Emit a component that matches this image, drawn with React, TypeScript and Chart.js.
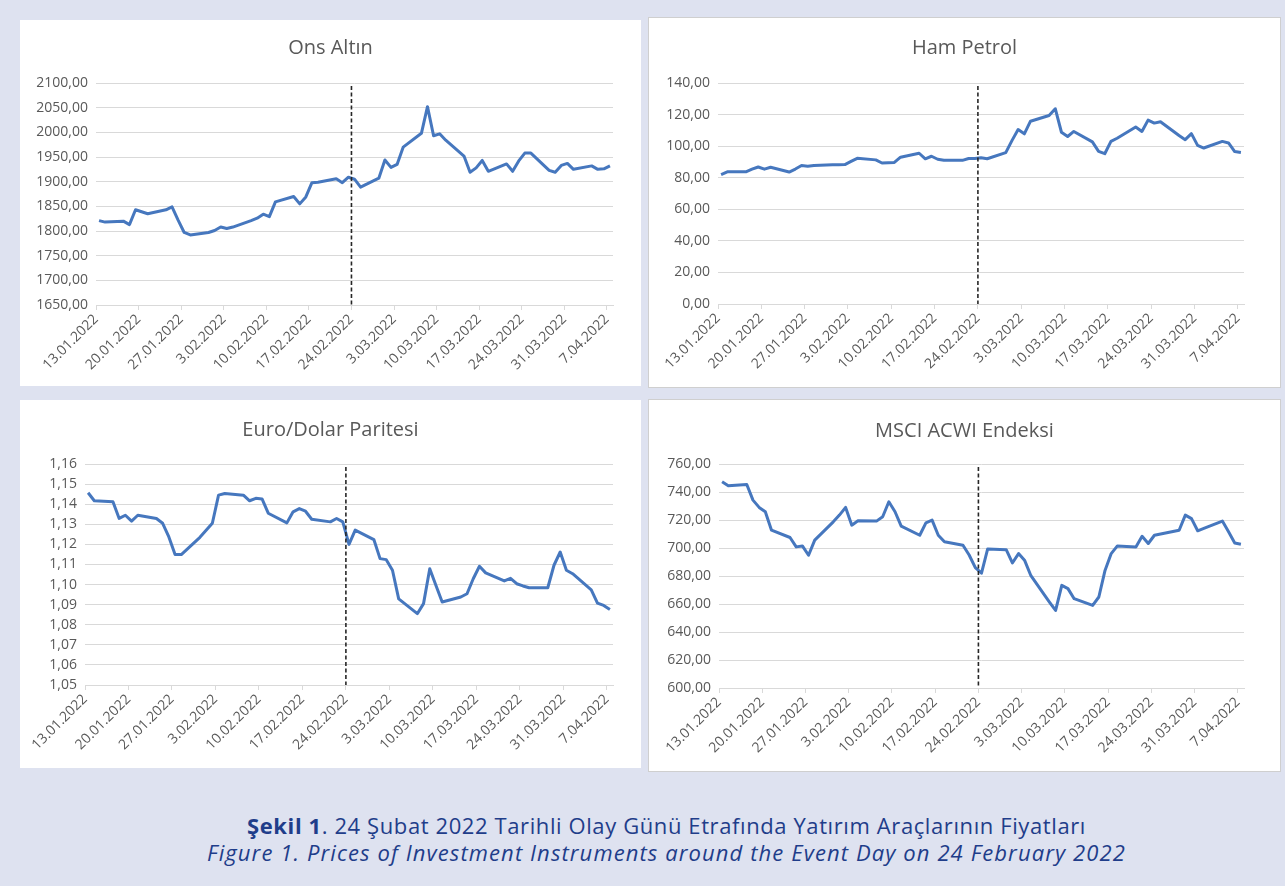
import React, { useEffect, useRef } from "react";
import { Chart, registerables } from "chart.js";

Chart.register(...registerables);

// ---------- DATA ----------
const startDate = "2022-01-13";
const eventDate = "2022-02-24";

const tradingDates = [
  "2022-01-13", "2022-01-14", "2022-01-17", "2022-01-18", "2022-01-19", "2022-01-20", "2022-01-21",
  "2022-01-24", "2022-01-25", "2022-01-26", "2022-01-27", "2022-01-28",
  "2022-01-31", "2022-02-01", "2022-02-02", "2022-02-03", "2022-02-04",
  "2022-02-07", "2022-02-08", "2022-02-09", "2022-02-10", "2022-02-11",
  "2022-02-14", "2022-02-15", "2022-02-16", "2022-02-17", "2022-02-18",
  "2022-02-21", "2022-02-22", "2022-02-23", "2022-02-24", "2022-02-25",
  "2022-02-28", "2022-03-01", "2022-03-02", "2022-03-03", "2022-03-04",
  "2022-03-07", "2022-03-08", "2022-03-09", "2022-03-10", "2022-03-11",
  "2022-03-14", "2022-03-15", "2022-03-16", "2022-03-17", "2022-03-18",
  "2022-03-21", "2022-03-22", "2022-03-23", "2022-03-24", "2022-03-25",
  "2022-03-28", "2022-03-29", "2022-03-30", "2022-03-31", "2022-04-01",
  "2022-04-04", "2022-04-05", "2022-04-06", "2022-04-07",
];

const tickLabels = [
  "13.01.2022", "20.01.2022", "27.01.2022", "3.02.2022", "10.02.2022", "17.02.2022",
  "24.02.2022", "3.03.2022", "10.03.2022", "17.03.2022", "24.03.2022", "31.03.2022", "7.04.2022",
];

const goldValues = [
  1821, 1818, 1820, 1813, 1843, 1839, 1835,
  1843, 1849, 1822, 1797, 1792,
  1797, 1801, 1808, 1805, 1808,
  1821, 1826, 1834, 1829, 1859,
  1870, 1855, 1869, 1898, 1899,
  1906, 1898, 1909, 1905, 1889,
  1907, 1944, 1929, 1935, 1970,
  1998, 2052, 1993, 1997, 1984,
  1952, 1919, 1928, 1943, 1921,
  1936, 1921, 1942, 1958, 1958,
  1923, 1919, 1933, 1937, 1925,
  1932, 1925, 1926, 1932,
];

const oilValues = [
  82.0, 83.7, 83.7, 85.4, 86.8, 85.4, 86.6,
  83.6, 85.5, 87.7, 87.3, 87.8,
  88.2, 88.2, 88.3, 90.3, 92.3,
  91.3, 89.3, 89.5, 89.7, 93.0,
  95.5, 92.0, 93.6, 91.7, 91.0,
  91.0, 92.2, 92.2, 92.7, 92.0,
  95.9, 103.5, 110.5, 107.8, 115.8,
  119.4, 123.7, 108.8, 106.1, 109.3,
  102.7, 96.7, 95.2, 103.0, 105.0,
  112.1, 109.3, 116.5, 114.6, 115.5,
  106.7, 104.1, 107.9, 100.5, 98.8,
  103.0, 102.0, 96.6, 96.0,
];

const eurUsdValues = [
  1.1457, 1.1417, 1.1412, 1.1329, 1.1345, 1.1316, 1.1345,
  1.1329, 1.1305, 1.1237, 1.1149, 1.1149,
  1.1235, 1.1270, 1.1305, 1.1445, 1.1453,
  1.1445, 1.1417, 1.1429, 1.1426, 1.1355,
  1.1307, 1.1362, 1.1378, 1.1365, 1.1325,
  1.1312, 1.1329, 1.1312, 1.1200, 1.1271,
  1.1224, 1.1129, 1.1124, 1.1071, 1.0929,
  1.0855, 1.0905, 1.1079, 1.0995, 1.0913,
  1.0938, 1.0954, 1.1029, 1.1091, 1.1058,
  1.1018, 1.1031, 1.1004, 1.0993, 1.0984,
  1.0984, 1.1096, 1.1162, 1.1071, 1.1054,
  1.0974, 1.0908, 1.0896, 1.0876,
];

const msciValues = [
  747.3, 744.5, 745.4, 734.2, 729.0, 725.9, 712.7,
  707.5, 700.8, 701.5, 694.8, 705.6,
  718.7, 723.5, 729.0, 716.3, 719.4,
  719.2, 722.3, 733.0, 725.9, 715.6,
  709.1, 718.0, 719.9, 709.1, 704.4,
  702.0, 695.0, 686.0, 682.0, 699.3,
  698.8, 689.3, 696.0, 691.0, 680.2,
  661.4, 655.4, 673.3, 671.0, 663.8,
  659.0, 665.0, 684.0, 696.0, 701.5,
  700.8, 708.4, 703.2, 709.1, 710.0,
  712.7, 723.5, 721.0, 712.3, 714.0,
  719.2, 711.6, 703.6, 702.7,
];

const panelTitles = ["Ons Altın", "Ham Petrol", "Euro/Dolar Paritesi", "MSCI ACWI Endeksi"];
const captionTrLead = "Şekil 1";
const captionTr = "24 Şubat 2022 Tarihli Olay Günü Etrafında Yatırım Araçlarının Fiyatları";
const captionEn = "Figure 1. Prices of Investment Instruments around the Event Day on 24 February 2022";

// ---------- helpers ----------
const DAY = 86400000;
const dayOffset = (iso: string) => (Date.parse(iso) - Date.parse(startDate)) / DAY;
const labelToIso = (l: string) => {
  const [d, m, y] = l.split(".");
  return `${y}-${m.padStart(2, "0")}-${d.padStart(2, "0")}`;
};
const tickDays = tickLabels.map((l) => dayOffset(labelToIso(l)));
const eventDay = dayOffset(eventDate);
const lastDay = dayOffset(tradingDates[tradingDates.length - 1]) + 1;

const FONT = "'Open Sans', 'Noto Sans', sans-serif";
const TEXT = "#595959";
const GRID = "#d9d9d9";
const LINE = "#4677be";

type PanelSpec = {
  title: string;
  values: number[];
  yMin: number;
  yMax: number;
  yStep: number;
  left: number;
  top: number;
  width: number;
  height: number;
  plotLeft: number;
  rightPad: number;
  plotTop: number;
  titleCenter: number;
  axisHeight: number;
  border: string;
};

const eventLinePlugin = {
  id: "eventLine",
  afterDatasetsDraw(chart: any) {
    const ctx = chart.ctx;
    const x = chart.scales.x.getPixelForValue(eventDay);
    const { top, bottom } = chart.chartArea;
    ctx.save();
    ctx.setLineDash([4, 2.5]);
    ctx.strokeStyle = "#262626";
    ctx.lineWidth = 1.6;
    ctx.beginPath();
    ctx.moveTo(x, top + 3);
    ctx.lineTo(x, bottom);
    ctx.stroke();
    ctx.restore();
  },
};

const centeredTitlePlugin = {
  id: "centeredTitle",
  afterDraw(chart: any, _args: any, opts: any) {
    const ctx = chart.ctx;
    ctx.save();
    ctx.font = `20px ${FONT}`;
    ctx.fillStyle = TEXT;
    ctx.textAlign = "center";
    ctx.textBaseline = "middle";
    ctx.fillText(opts.text, chart.width / 2, opts.y);
    ctx.restore();
  },
};

function Panel({ spec }: { spec: PanelSpec }) {
  const ref = useRef<HTMLCanvasElement | null>(null);
  useEffect(() => {
    if (!ref.current) return;
    const chart = new Chart(ref.current, {
      type: "line",
      data: {
        datasets: [
          {
            data: tradingDates.map((d, i) => ({ x: dayOffset(d) + 0.5, y: spec.values[i] })),
            borderColor: LINE,
            borderWidth: 3,
            pointRadius: 0,
            tension: 0,
            fill: false,
            borderJoinStyle: "round",
          },
        ],
      },
      options: {
        animation: false,
        responsive: false,
        devicePixelRatio: 1,
        layout: { padding: { left: 0, right: spec.rightPad, top: spec.plotTop, bottom: 0 } },
        plugins: {
          legend: { display: false },
          tooltip: { enabled: false },
          title: { display: false },
          centeredTitle: { text: spec.title, y: spec.titleCenter },
        },
        scales: {
          x: {
            type: "linear",
            min: 0,
            max: lastDay,
            afterBuildTicks: (scale: any) => {
              scale.ticks = tickDays.map((v) => ({ value: v }));
            },
            afterFit: (scale: any) => {
              scale.height = spec.axisHeight;
            },
            ticks: {
              autoSkip: false,
              minRotation: 45,
              maxRotation: 45,
              color: TEXT,
              font: { family: FONT, size: 14 },
              padding: 1,
              callback: (v: any) => {
                const i = tickDays.indexOf(Number(v));
                return i >= 0 ? tickLabels[i] : "";
              },
            },
            grid: { display: true, drawOnChartArea: false, drawTicks: true, tickLength: 5, color: GRID },
            border: { display: true, color: GRID, width: 1 },
          },
          y: {
            min: spec.yMin,
            max: spec.yMax,
            afterFit: (scale: any) => {
              scale.width = spec.plotLeft;
            },
            ticks: {
              stepSize: spec.yStep,
              color: TEXT,
              font: { family: FONT, size: 14 },
              padding: 8,
              callback: (v: any) => Number(v).toFixed(2).replace(".", ","),
            },
            grid: { color: GRID, lineWidth: 1, drawTicks: false },
            border: { display: false },
          },
        },
      },
      plugins: [eventLinePlugin, centeredTitlePlugin],
    } as any);
    return () => chart.destroy();
  }, [spec]);

  return (
    <div
      style={{
        position: "absolute",
        left: spec.left,
        top: spec.top,
        width: spec.width,
        height: spec.height,
        background: "#ffffff",
        boxSizing: "border-box",
        border: spec.border,
      }}
    >
      <canvas
        ref={ref}
        width={spec.width - 2}
        height={spec.height - 2}
        style={{ position: "absolute", left: 0, top: 0, display: "block" }}
      />
    </div>
  );
}

const panels: PanelSpec[] = [
  {
    title: panelTitles[0], values: goldValues, yMin: 1650, yMax: 2100, yStep: 50,
    left: 20, top: 20, width: 621, height: 366,
    plotLeft: 75, rightPad: 27, plotTop: 62, titleCenter: 27, axisHeight: 80, border: "1px solid #ffffff",
  },
  {
    title: panelTitles[1], values: oilValues, yMin: 0, yMax: 140, yStep: 20,
    left: 648, top: 17, width: 633, height: 371,
    plotLeft: 69, rightPad: 36, plotTop: 65, titleCenter: 30, axisHeight: 83, border: "1px solid #cfcfcf",
  },
  {
    title: panelTitles[2], values: eurUsdValues, yMin: 1.05, yMax: 1.16, yStep: 0.01,
    left: 20, top: 400, width: 621, height: 368,
    plotLeft: 64, rightPad: 27, plotTop: 63, titleCenter: 29, axisHeight: 82, border: "1px solid #ffffff",
  },
  {
    title: panelTitles[3], values: msciValues, yMin: 600, yMax: 760, yStep: 20,
    left: 648, top: 399, width: 633, height: 373,
    plotLeft: 70, rightPad: 36, plotTop: 64, titleCenter: 31, axisHeight: 83, border: "1px solid #cfcfcf",
  },
];

export default function App() {
  return (
    <div
      style={{
        position: "fixed",
        left: 0,
        top: 0,
        width: 1285,
        height: 886,
        background: "#dee2f0",
        overflow: "hidden",
      }}
    >
      {panels.map((p, i) => (
        <Panel key={i} spec={p} />
      ))}
      <div
        style={{
          position: "absolute",
          left: 24,
          width: 1285,
          top: 812,
          textAlign: "center",
          fontFamily: FONT,
          fontSize: 22,
          lineHeight: "27px",
          color: "#1f3d8a",
        }}
      >
        <div style={{ letterSpacing: "0.6px" }}>
          <b>{captionTrLead}</b>. {captionTr}
        </div>
        <div style={{ fontStyle: "italic", letterSpacing: "1.1px" }}>{captionEn}</div>
      </div>
    </div>
  );
}
